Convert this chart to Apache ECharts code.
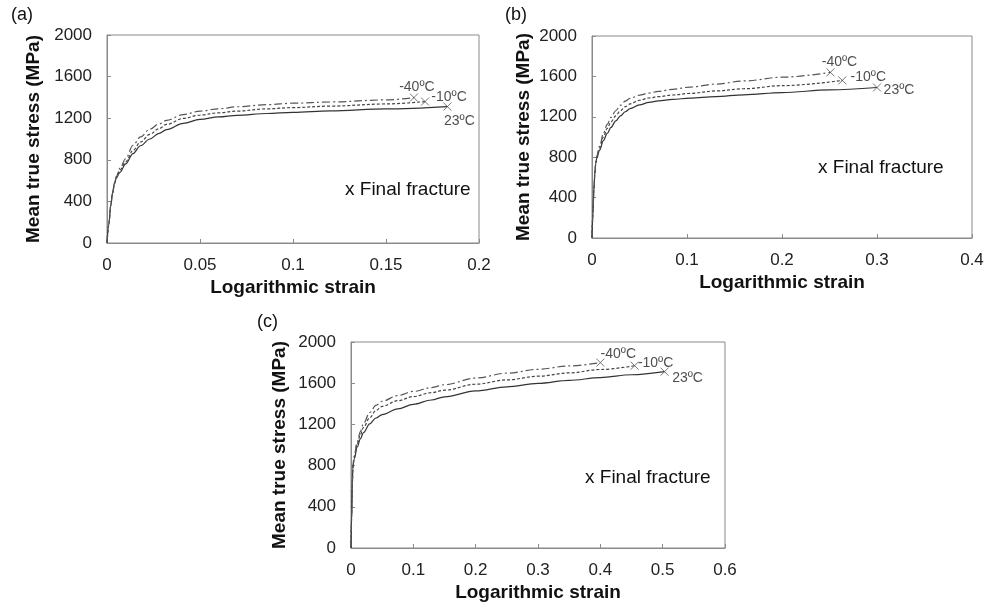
<!DOCTYPE html>
<html>
<head>
<meta charset="utf-8">
<script src="https://cdn.jsdelivr.net/npm/echarts@6/dist/echarts.min.js"></script>
<style>
html,body{margin:0;padding:0;background:#fff;}
#chart{width:987px;height:609px;}
</style>
</head>
<body>
<div id="chart"></div>
<script>
// ---------- data (strain, MPa) ----------
var tempNames = ['23ºC', '-10ºC', '-40ºC'];

var a23 = [[0,0],[0.001,180],[0.002,360],[0.003,480],[0.004,570],[0.005,625],[0.007,680],[0.01,760],[0.014,860],[0.018,935],[0.023,1000],[0.028,1055],[0.032,1090],[0.041,1150],[0.05,1188],[0.06,1212],[0.07,1228],[0.086,1245],[0.1,1256],[0.12,1270],[0.15,1290],[0.183,1312]];
var a10 = [[0,0],[0.001,180],[0.002,360],[0.003,480],[0.004,570],[0.005,630],[0.007,700],[0.01,780],[0.014,890],[0.018,970],[0.023,1045],[0.028,1100],[0.032,1140],[0.041,1198],[0.05,1230],[0.06,1252],[0.07,1268],[0.086,1290],[0.1,1302],[0.12,1316],[0.15,1337],[0.171,1360]];
var a40 = [[0,0],[0.001,180],[0.002,360],[0.003,480],[0.004,575],[0.005,640],[0.007,720],[0.01,810],[0.014,940],[0.018,1020],[0.023,1094],[0.028,1145],[0.032,1180],[0.041,1235],[0.05,1268],[0.06,1290],[0.07,1310],[0.086,1330],[0.1,1344],[0.12,1356],[0.15,1376],[0.165,1398]];

var b23 = [[0,0],[0.001,250],[0.002,480],[0.003,640],[0.004,740],[0.005,790],[0.008,870],[0.012,965],[0.016,1035],[0.02,1095],[0.025,1160],[0.03,1210],[0.035,1250],[0.04,1280],[0.05,1318],[0.06,1342],[0.07,1358],[0.085,1372],[0.103,1385],[0.13,1400],[0.16,1418],[0.2,1440],[0.25,1466],[0.3,1490]];
var b10 = [[0,0],[0.001,250],[0.002,480],[0.003,640],[0.004,745],[0.005,800],[0.008,890],[0.012,1000],[0.016,1085],[0.02,1150],[0.025,1210],[0.03,1260],[0.035,1300],[0.04,1328],[0.05,1364],[0.06,1386],[0.07,1400],[0.085,1416],[0.103,1432],[0.13,1456],[0.16,1478],[0.2,1508],[0.2635,1560]];
var b40 = [[0,0],[0.001,250],[0.002,480],[0.003,640],[0.004,750],[0.005,810],[0.008,910],[0.012,1035],[0.016,1125],[0.02,1195],[0.025,1260],[0.03,1315],[0.035,1355],[0.04,1382],[0.05,1414],[0.06,1435],[0.07,1452],[0.085,1472],[0.103,1494],[0.13,1524],[0.16,1555],[0.2,1592],[0.251,1640]];

var c23 = [[0,0],[0.001,300],[0.002,600],[0.003,780],[0.005,860],[0.01,980],[0.015,1060],[0.02,1120],[0.03,1205],[0.04,1262],[0.05,1295],[0.075,1350],[0.1,1395],[0.129,1437],[0.15,1468],[0.2,1525],[0.25,1565],[0.3,1598],[0.35,1627],[0.4,1655],[0.45,1682],[0.503,1712]];
var c10 = [[0,0],[0.001,300],[0.002,600],[0.003,790],[0.005,880],[0.01,1010],[0.015,1100],[0.02,1170],[0.03,1265],[0.04,1335],[0.05,1375],[0.075,1430],[0.1,1470],[0.129,1508],[0.15,1532],[0.2,1590],[0.25,1632],[0.3,1668],[0.35,1700],[0.4,1733],[0.455,1770]];
var c40 = [[0,0],[0.001,300],[0.002,600],[0.003,800],[0.005,890],[0.01,1030],[0.015,1130],[0.02,1210],[0.03,1315],[0.04,1385],[0.05,1425],[0.075,1480],[0.1,1520],[0.129,1558],[0.15,1585],[0.2,1650],[0.25,1697],[0.3,1735],[0.35,1768],[0.4,1800]];

var xMaxes = [0.2, 0.4, 0.6];
var xIntervals = [0.05, 0.1, 0.1];
var yMax = 2000, yInterval = 400;
var panelLabels = ['(a)', '(b)', '(c)'];
var noteText = 'x Final fracture';
var xName = 'Logarithmic strain';
var yName = 'Mean true stress (MPa)';

// ---------- layout / style ----------
var grids = [
  {left:107, top:35, width:372, height:208},
  {left:592, top:36, width:380, height:202},
  {left:351, top:342, width:374, height:206}
];
var yNameGaps = [64, 59, 62];
var panels = [[a23,a10,a40],[b23,b10,b40],[c23,c10,c40]];
var labelOffsets = [
  [[12,15],[24,-4],[3,-10]],
  [[22,3],[26,-3],[9,-10]],
  [[23,6],[21,-3],[18,-8]]
];
var lineTypes = ['solid', [3,2], [8,3,2,3]];
var lineColors = ['#333', '#444', '#555'];
var FONT = 'Liberation Sans, Arial, sans-serif';
var crossPath = 'path://M0,0L10,10M10,0L0,10';

var xAxes = [], yAxes = [], series = [];
for (var p = 0; p < 3; p++) {
  grids[p].show = true;
  grids[p].borderColor = '#8a8a8a';
  grids[p].borderWidth = 1;
  grids[p].containLabel = false;
  xAxes.push({
    type:'value', gridIndex:p, min:0, max:xMaxes[p], interval:xIntervals[p],
    name:xName, nameLocation:'middle', nameGap:35,
    nameTextStyle:{fontFamily:FONT, fontSize:19, fontWeight:'bold', color:'#111'},
    axisLine:{show:true, lineStyle:{color:'#8a8a8a', width:1}},
    axisTick:{show:true, inside:true, length:4, lineStyle:{color:'#8a8a8a'}},
    splitLine:{show:false},
    axisLabel:{fontFamily:FONT, fontSize:17, color:'#222', margin:14}
  });
  yAxes.push({
    type:'value', gridIndex:p, min:0, max:yMax, interval:yInterval,
    name:yName, nameLocation:'middle', nameGap:yNameGaps[p], nameRotate:90,
    nameTextStyle:{fontFamily:FONT, fontSize:19, fontWeight:'bold', color:'#111'},
    axisLine:{show:true, lineStyle:{color:'#8a8a8a', width:1}},
    axisTick:{show:true, inside:true, length:4, lineStyle:{color:'#8a8a8a'}},
    splitLine:{show:false},
    axisLabel:{fontFamily:FONT, fontSize:17, color:'#222', margin:15,
               formatter:function(v){ return String(v); }}
  });
  var ends = [];
  for (var s = 0; s < 3; s++) {
    var d = panels[p][s];
    series.push({
      type:'line', xAxisIndex:p, yAxisIndex:p, data:d, symbol:'none',
      smooth:0.35, smoothMonotone:'x', silent:true,
      lineStyle:{color:lineColors[s], width:1.2, type:lineTypes[s]}
    });
    ends.push({
      value:d[d.length-1],
      label:{show:true, position:'inside', offset:labelOffsets[p][s], formatter:tempNames[s],
             fontFamily:FONT, fontSize:14, color:'#222'}
    });
  }
  series.push({
    type:'scatter', xAxisIndex:p, yAxisIndex:p, data:ends, symbol:crossPath, symbolSize:8,
    silent:true, z:5,
    itemStyle:{color:'rgba(0,0,0,0)', borderColor:'#555', borderWidth:1}
  });
}

var graphics = [
  {type:'text', left:11, top:6, style:{text:panelLabels[0], font:'18px ' + FONT, fill:'#111'}},
  {type:'text', left:505, top:6, style:{text:panelLabels[1], font:'18px ' + FONT, fill:'#111'}},
  {type:'text', left:257, top:313, style:{text:panelLabels[2], font:'18px ' + FONT, fill:'#111'}},
  {type:'text', left:345, top:180, style:{text:noteText, font:'19px ' + FONT, fill:'#111'}},
  {type:'text', left:818, top:158, style:{text:noteText, font:'19px ' + FONT, fill:'#111'}},
  {type:'text', left:585, top:468, style:{text:noteText, font:'19px ' + FONT, fill:'#111'}}
];

var chart = echarts.init(document.getElementById('chart'), null, {renderer:'canvas'});
chart.setOption({
  backgroundColor:'#fff',
  animation:false,
  grid:grids,
  xAxis:xAxes,
  yAxis:yAxes,
  series:series,
  graphic:graphics
});
</script>
</body>
</html>
